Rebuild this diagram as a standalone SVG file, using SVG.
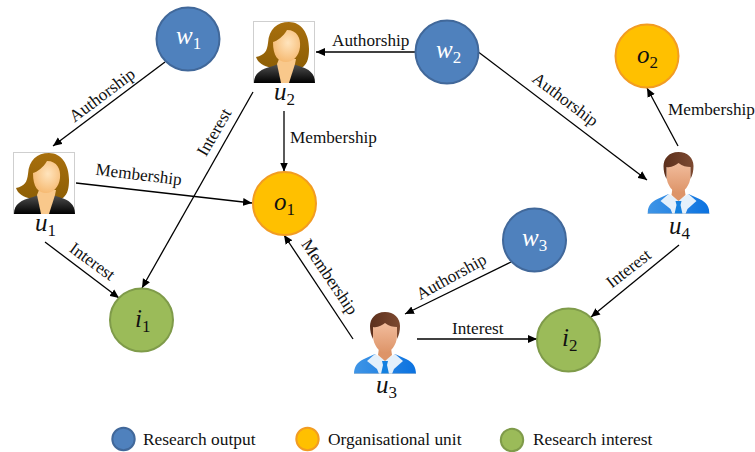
<svg xmlns="http://www.w3.org/2000/svg" width="755" height="452" viewBox="0 0 755 452">
<style>
text{font-family:"Liberation Serif","Times New Roman",serif;fill:#111}
.l{font-size:17.2px}
.g{font-size:17.4px}
.m{font-size:25px;font-style:italic}
.s{font-size:17px;font-style:normal}
.w{fill:#fff}
.r{fill:#4f81bd;stroke:#41689a;stroke-width:2}
.o{fill:#ffc000;stroke:#f29c22;stroke-width:2}
.i{fill:#9bbb59;stroke:#7f9b4a;stroke-width:2}
#edges line{stroke:#000;stroke-width:1.3;marker-end:url(#a)}
</style>
<defs>
<marker id="a" markerUnits="userSpaceOnUse" markerWidth="10" markerHeight="9" refX="9" refY="4.5" orient="auto"><path d="M0,.5L9,4.5L0,8.5Z" fill="#000"/></marker>
<radialGradient id="fs" cx=".55" cy=".4" r=".6"><stop offset="0" stop-color="#ffe4bd"/><stop offset="1" stop-color="#f6bb74"/></radialGradient>
<linearGradient id="fh" x1="0" y1="0" x2="0" y2="1"><stop offset="0" stop-color="#a86f0d"/><stop offset="1" stop-color="#8e5f06"/></linearGradient>
<linearGradient id="fj" x1="0" y1="0" x2="0" y2="1"><stop offset="0" stop-color="#555"/><stop offset="1" stop-color="#000"/></linearGradient>
<linearGradient id="ms" x1="0" y1="0" x2="0" y2="1"><stop offset="0" stop-color="#f5c2a4"/><stop offset="1" stop-color="#dd9468"/></linearGradient>
<linearGradient id="mh" x1="0" y1="0" x2="1" y2="0"><stop offset="0" stop-color="#5c2f1c"/><stop offset="1" stop-color="#7d4a31"/></linearGradient>
<linearGradient id="mb" x1="0" y1="0" x2="1" y2="0"><stop offset="0" stop-color="#3f95e6"/><stop offset="1" stop-color="#0b72e0"/></linearGradient>
<symbol id="female" viewBox="0 0 62 62" width="62" height="62">
<rect x=".5" y=".5" width="61" height="61" fill="#fff" stroke="#cfcfcf"/>
<path d="M36,1C24,1 16,8 15,22C14,30 12,34 3,36C5,42 12,47 20,46L50,46C55,42 56,35 56,28C56,12 48,1 36,1Z" fill="url(#fh)"/>
<path d="M1,62C1,52 8,48 20,45L28,42L36,42L46,45C56,48 62,52 62,62Z" fill="url(#fj)"/>
<path d="M26,38L43,38L42,43L36,62L28,62L24,43Z" fill="#f9c88b"/>
<path d="M34,9C44,9 48,17 47,26C46,35 40,41 33,41C25,41 20,35 20,21C24,20 30,16 34,9Z" fill="url(#fs)"/>
</symbol>
<symbol id="male" viewBox="0 0 62 62" width="62" height="62">
<path d="M0,62C0,55 3,50 10,47L21,42L31,54L41,42L52,47C59,50 62,55 62,62Z" fill="url(#mb)"/>
<path d="M21,42L13,49L23,57L25,62L38,62L40,57L49,49L41,42L31,48Z" fill="#e4f0fb"/>
<path d="M25,36L37,36L38,43L31,49L24,43Z" fill="#dd9468"/>
<path d="M28,49L34,49L33,53L35,62L27,62L29,53Z" fill="#1380e0"/>
<path d="M19,14C19,8 24,6 31,7C38,6 43,8 43,14L43,24C43,33 36,41 31,41C26,41 19,33 19,24Z" fill="url(#ms)"/>
<path d="M31,0C21,0 16,7 16,14C16,19 17,23 19,27L19,15C24,16 28,13 31,11C35,14 39,15 43,15L43,27C45,23 46,19 46,14C46,6 40,0 31,0Z" fill="url(#mh)"/>
<rect x="0" y="61.4" width="62" height=".8" fill="#bcc6d0"/>
</symbol>
</defs>
<rect width="755" height="452" fill="#fff"/>
<g id="edges">
<line x1="165" y1="62" x2="53" y2="146"/>
<line x1="416" y1="52" x2="316" y2="52"/>
<line x1="479" y1="52.5" x2="647" y2="180"/>
<line x1="678" y1="146" x2="647" y2="88"/>
<line x1="253" y1="92" x2="142" y2="288"/>
<line x1="284" y1="111" x2="284" y2="171.5"/>
<line x1="76" y1="183" x2="252" y2="203"/>
<line x1="45" y1="242" x2="119" y2="298"/>
<line x1="353" y1="339" x2="284" y2="235"/>
<line x1="511" y1="262" x2="405" y2="314"/>
<line x1="417" y1="339" x2="537" y2="339"/>
<line x1="679" y1="245" x2="591" y2="317"/>
</g>
<g id="edge-labels">
<text class="l" text-anchor="middle" transform="translate(105.5,99.5) rotate(-37)">Authorship</text>
<text class="l" x="332" y="46">Authorship</text>
<text class="l" text-anchor="middle" transform="translate(562,104) rotate(37)">Authorship</text>
<text class="l" x="668" y="115">Membership</text>
<text class="l" text-anchor="middle" transform="translate(219,135) rotate(-60)">Interest</text>
<text class="l" x="290" y="143">Membership</text>
<text class="l" text-anchor="middle" transform="translate(138,180) rotate(7)">Membership</text>
<text class="l" text-anchor="middle" transform="translate(89,266) rotate(36)">Interest</text>
<text class="l" text-anchor="middle" transform="translate(325,280) rotate(56)">Membership</text>
<text class="l" text-anchor="middle" transform="translate(454,281.5) rotate(-29)">Authorship</text>
<text class="l" x="452" y="334">Interest</text>
<text class="l" text-anchor="middle" transform="translate(632,273) rotate(-38)">Interest</text>
</g>
<g id="w1"><circle class="r" cx="188" cy="39" r="31.5"/><text class="m w" x="176" y="44">w<tspan class="s w" dy="5">1</tspan></text></g>
<g id="w2"><circle class="r" cx="447" cy="52" r="31.5"/><text class="m w" x="436" y="58">w<tspan class="s w" dy="5">2</tspan></text></g>
<g id="w3"><circle class="r" cx="534.5" cy="240" r="31.5"/><text class="m w" x="522" y="246">w<tspan class="s w" dy="5">3</tspan></text></g>
<g id="o1"><circle class="o" cx="284.5" cy="203.5" r="31.5"/><text class="m" x="274" y="210">o<tspan class="s" dy="5">1</tspan></text></g>
<g id="o2"><circle class="o" cx="647" cy="56" r="31.5"/><text class="m" x="637" y="63">o<tspan class="s" dy="5">2</tspan></text></g>
<g id="i1"><circle class="i" cx="141.5" cy="320" r="31.5"/><text class="m" x="135" y="327">i<tspan class="s" dy="5">1</tspan></text></g>
<g id="i2"><circle class="i" cx="568.5" cy="340" r="31.5"/><text class="m" x="562" y="346">i<tspan class="s" dy="5">2</tspan></text></g>
<g id="u1"><use href="#female" x="13" y="152"/><text class="m" x="35" y="231">u<tspan class="s" dy="5">1</tspan></text></g>
<g id="u2"><use href="#female" x="253" y="21"/><text class="m" x="274" y="100">u<tspan class="s" dy="5">2</tspan></text></g>
<g id="u3"><use href="#male" x="354" y="312"/><text class="m" x="376" y="393">u<tspan class="s" dy="5">3</tspan></text></g>
<g id="u4"><use href="#male" x="647.5" y="152"/><text class="m" x="669" y="234">u<tspan class="s" dy="5">4</tspan></text></g>
<g id="legend">
<circle class="r" cx="123.5" cy="439" r="11.2"/><text class="g" x="143" y="445">Research output</text>
<circle class="o" cx="307.5" cy="439" r="11.2"/><text class="g" x="328" y="445">Organisational unit</text>
<circle class="i" cx="512" cy="440" r="11.2"/><text class="g" x="533" y="445">Research interest</text>
</g>
</svg>
